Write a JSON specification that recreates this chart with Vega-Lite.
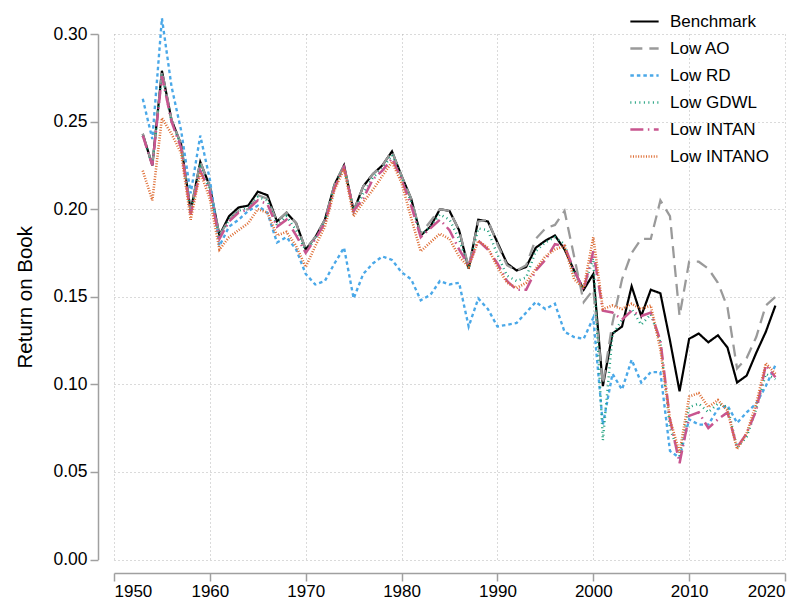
{
"$schema": "https://vega.github.io/schema/vega-lite/v6.json",
"width": 671, "height": 525.5,
"autosize": {"type": "none"},
"padding": {"left": 114, "top": 34, "right": 23, "bottom": 46.5},
"background": "white",
"config": {"font": "Liberation Sans", "view": {"stroke": null}},
"data": {"values": [
{"year":1953,"series":"Benchmark","value":0.243},{"year":1954,"series":"Benchmark","value":0.225},{"year":1955,"series":"Benchmark","value":0.279},{"year":1956,"series":"Benchmark","value":0.251},{"year":1957,"series":"Benchmark","value":0.237},{"year":1958,"series":"Benchmark","value":0.199},{"year":1959,"series":"Benchmark","value":0.227},{"year":1960,"series":"Benchmark","value":0.213},{"year":1961,"series":"Benchmark","value":0.185},{"year":1962,"series":"Benchmark","value":0.196},
{"year":1963,"series":"Benchmark","value":0.201},{"year":1964,"series":"Benchmark","value":0.202},{"year":1965,"series":"Benchmark","value":0.210},{"year":1966,"series":"Benchmark","value":0.208},{"year":1967,"series":"Benchmark","value":0.193},{"year":1968,"series":"Benchmark","value":0.198},{"year":1969,"series":"Benchmark","value":0.192},{"year":1970,"series":"Benchmark","value":0.177},{"year":1971,"series":"Benchmark","value":0.184},{"year":1972,"series":"Benchmark","value":0.194},
{"year":1973,"series":"Benchmark","value":0.214},{"year":1974,"series":"Benchmark","value":0.225},{"year":1975,"series":"Benchmark","value":0.199},{"year":1976,"series":"Benchmark","value":0.213},{"year":1977,"series":"Benchmark","value":0.220},{"year":1978,"series":"Benchmark","value":0.225},{"year":1979,"series":"Benchmark","value":0.233},{"year":1980,"series":"Benchmark","value":0.219},{"year":1981,"series":"Benchmark","value":0.206},{"year":1982,"series":"Benchmark","value":0.185},
{"year":1983,"series":"Benchmark","value":0.190},{"year":1984,"series":"Benchmark","value":0.200},{"year":1985,"series":"Benchmark","value":0.199},{"year":1986,"series":"Benchmark","value":0.188},{"year":1987,"series":"Benchmark","value":0.166},{"year":1988,"series":"Benchmark","value":0.194},{"year":1989,"series":"Benchmark","value":0.193},{"year":1990,"series":"Benchmark","value":0.181},{"year":1991,"series":"Benchmark","value":0.169},{"year":1992,"series":"Benchmark","value":0.165},
{"year":1993,"series":"Benchmark","value":0.167},{"year":1994,"series":"Benchmark","value":0.178},{"year":1995,"series":"Benchmark","value":0.182},{"year":1996,"series":"Benchmark","value":0.185},{"year":1997,"series":"Benchmark","value":0.177},{"year":1998,"series":"Benchmark","value":0.165},{"year":1999,"series":"Benchmark","value":0.154},{"year":2000,"series":"Benchmark","value":0.163},{"year":2001,"series":"Benchmark","value":0.099},{"year":2002,"series":"Benchmark","value":0.129},
{"year":2003,"series":"Benchmark","value":0.133},{"year":2004,"series":"Benchmark","value":0.156},{"year":2005,"series":"Benchmark","value":0.139},{"year":2006,"series":"Benchmark","value":0.154},{"year":2007,"series":"Benchmark","value":0.152},{"year":2008,"series":"Benchmark","value":0.125},{"year":2009,"series":"Benchmark","value":0.096},{"year":2010,"series":"Benchmark","value":0.126},{"year":2011,"series":"Benchmark","value":0.129},{"year":2012,"series":"Benchmark","value":0.124},
{"year":2013,"series":"Benchmark","value":0.128},{"year":2014,"series":"Benchmark","value":0.121},{"year":2015,"series":"Benchmark","value":0.101},{"year":2016,"series":"Benchmark","value":0.105},{"year":2017,"series":"Benchmark","value":0.118},{"year":2018,"series":"Benchmark","value":0.130},{"year":2019,"series":"Benchmark","value":0.145},

{"year":1953,"series":"Low AO","value":0.243},{"year":1954,"series":"Low AO","value":0.225},{"year":1955,"series":"Low AO","value":0.279},{"year":1956,"series":"Low AO","value":0.251},{"year":1957,"series":"Low AO","value":0.237},{"year":1958,"series":"Low AO","value":0.199},{"year":1959,"series":"Low AO","value":0.227},{"year":1960,"series":"Low AO","value":0.213},{"year":1961,"series":"Low AO","value":0.185},{"year":1962,"series":"Low AO","value":0.194},
{"year":1963,"series":"Low AO","value":0.199},{"year":1964,"series":"Low AO","value":0.200},{"year":1965,"series":"Low AO","value":0.208},{"year":1966,"series":"Low AO","value":0.206},{"year":1967,"series":"Low AO","value":0.193},{"year":1968,"series":"Low AO","value":0.198},{"year":1969,"series":"Low AO","value":0.192},{"year":1970,"series":"Low AO","value":0.177},{"year":1971,"series":"Low AO","value":0.184},{"year":1972,"series":"Low AO","value":0.194},
{"year":1973,"series":"Low AO","value":0.214},{"year":1974,"series":"Low AO","value":0.225},{"year":1975,"series":"Low AO","value":0.199},{"year":1976,"series":"Low AO","value":0.213},{"year":1977,"series":"Low AO","value":0.220},{"year":1978,"series":"Low AO","value":0.225},{"year":1979,"series":"Low AO","value":0.233},{"year":1980,"series":"Low AO","value":0.219},{"year":1981,"series":"Low AO","value":0.206},{"year":1982,"series":"Low AO","value":0.186},
{"year":1983,"series":"Low AO","value":0.193},{"year":1984,"series":"Low AO","value":0.200},{"year":1985,"series":"Low AO","value":0.199},{"year":1986,"series":"Low AO","value":0.188},{"year":1987,"series":"Low AO","value":0.167},{"year":1988,"series":"Low AO","value":0.193},{"year":1989,"series":"Low AO","value":0.194},{"year":1990,"series":"Low AO","value":0.180},{"year":1991,"series":"Low AO","value":0.168},{"year":1992,"series":"Low AO","value":0.165},
{"year":1993,"series":"Low AO","value":0.168},{"year":1994,"series":"Low AO","value":0.183},{"year":1995,"series":"Low AO","value":0.189},{"year":1996,"series":"Low AO","value":0.191},{"year":1997,"series":"Low AO","value":0.199},{"year":1998,"series":"Low AO","value":0.173},{"year":1999,"series":"Low AO","value":0.147},{"year":2000,"series":"Low AO","value":0.154},{"year":2001,"series":"Low AO","value":0.100},{"year":2002,"series":"Low AO","value":0.135},
{"year":2003,"series":"Low AO","value":0.160},{"year":2004,"series":"Low AO","value":0.175},{"year":2005,"series":"Low AO","value":0.183},{"year":2006,"series":"Low AO","value":0.183},{"year":2007,"series":"Low AO","value":0.205},{"year":2008,"series":"Low AO","value":0.196},{"year":2009,"series":"Low AO","value":0.139},{"year":2010,"series":"Low AO","value":0.170},{"year":2011,"series":"Low AO","value":0.170},{"year":2012,"series":"Low AO","value":0.166},
{"year":2013,"series":"Low AO","value":0.158},{"year":2014,"series":"Low AO","value":0.144},{"year":2015,"series":"Low AO","value":0.109},{"year":2016,"series":"Low AO","value":0.115},{"year":2017,"series":"Low AO","value":0.127},{"year":2018,"series":"Low AO","value":0.145},{"year":2019,"series":"Low AO","value":0.150},

{"year":1953,"series":"Low RD","value":0.263},{"year":1954,"series":"Low RD","value":0.240},{"year":1955,"series":"Low RD","value":0.309},{"year":1956,"series":"Low RD","value":0.270},{"year":1957,"series":"Low RD","value":0.245},{"year":1958,"series":"Low RD","value":0.209},{"year":1959,"series":"Low RD","value":0.242},{"year":1960,"series":"Low RD","value":0.217},{"year":1961,"series":"Low RD","value":0.179},{"year":1962,"series":"Low RD","value":0.190},
{"year":1963,"series":"Low RD","value":0.194},{"year":1964,"series":"Low RD","value":0.199},{"year":1965,"series":"Low RD","value":0.202},{"year":1966,"series":"Low RD","value":0.198},{"year":1967,"series":"Low RD","value":0.181},{"year":1968,"series":"Low RD","value":0.184},{"year":1969,"series":"Low RD","value":0.177},{"year":1970,"series":"Low RD","value":0.163},{"year":1971,"series":"Low RD","value":0.157},{"year":1972,"series":"Low RD","value":0.159},
{"year":1973,"series":"Low RD","value":0.169},{"year":1974,"series":"Low RD","value":0.178},{"year":1975,"series":"Low RD","value":0.149},{"year":1976,"series":"Low RD","value":0.163},{"year":1977,"series":"Low RD","value":0.169},{"year":1978,"series":"Low RD","value":0.173},{"year":1979,"series":"Low RD","value":0.171},{"year":1980,"series":"Low RD","value":0.164},{"year":1981,"series":"Low RD","value":0.160},{"year":1982,"series":"Low RD","value":0.148},
{"year":1983,"series":"Low RD","value":0.151},{"year":1984,"series":"Low RD","value":0.159},{"year":1985,"series":"Low RD","value":0.157},{"year":1986,"series":"Low RD","value":0.158},{"year":1987,"series":"Low RD","value":0.133},{"year":1988,"series":"Low RD","value":0.149},{"year":1989,"series":"Low RD","value":0.143},{"year":1990,"series":"Low RD","value":0.133},{"year":1991,"series":"Low RD","value":0.134},{"year":1992,"series":"Low RD","value":0.135},
{"year":1993,"series":"Low RD","value":0.141},{"year":1994,"series":"Low RD","value":0.147},{"year":1995,"series":"Low RD","value":0.143},{"year":1996,"series":"Low RD","value":0.146},{"year":1997,"series":"Low RD","value":0.130},{"year":1998,"series":"Low RD","value":0.127},{"year":1999,"series":"Low RD","value":0.126},{"year":2000,"series":"Low RD","value":0.138},{"year":2001,"series":"Low RD","value":0.077},{"year":2002,"series":"Low RD","value":0.106},
{"year":2003,"series":"Low RD","value":0.097},{"year":2004,"series":"Low RD","value":0.114},{"year":2005,"series":"Low RD","value":0.101},{"year":2006,"series":"Low RD","value":0.107},{"year":2007,"series":"Low RD","value":0.107},{"year":2008,"series":"Low RD","value":0.062},{"year":2009,"series":"Low RD","value":0.058},{"year":2010,"series":"Low RD","value":0.080},{"year":2011,"series":"Low RD","value":0.077},{"year":2012,"series":"Low RD","value":0.077},
{"year":2013,"series":"Low RD","value":0.086},{"year":2014,"series":"Low RD","value":0.088},{"year":2015,"series":"Low RD","value":0.078},{"year":2016,"series":"Low RD","value":0.084},{"year":2017,"series":"Low RD","value":0.089},{"year":2018,"series":"Low RD","value":0.099},{"year":2019,"series":"Low RD","value":0.111},

{"year":1953,"series":"Low GDWL","value":0.242},{"year":1954,"series":"Low GDWL","value":0.225},{"year":1955,"series":"Low GDWL","value":0.277},{"year":1956,"series":"Low GDWL","value":0.250},{"year":1957,"series":"Low GDWL","value":0.236},{"year":1958,"series":"Low GDWL","value":0.198},{"year":1959,"series":"Low GDWL","value":0.224},{"year":1960,"series":"Low GDWL","value":0.211},{"year":1961,"series":"Low GDWL","value":0.184},{"year":1962,"series":"Low GDWL","value":0.194},
{"year":1963,"series":"Low GDWL","value":0.199},{"year":1964,"series":"Low GDWL","value":0.201},{"year":1965,"series":"Low GDWL","value":0.207},{"year":1966,"series":"Low GDWL","value":0.205},{"year":1967,"series":"Low GDWL","value":0.191},{"year":1968,"series":"Low GDWL","value":0.196},{"year":1969,"series":"Low GDWL","value":0.188},{"year":1970,"series":"Low GDWL","value":0.176},{"year":1971,"series":"Low GDWL","value":0.183},{"year":1972,"series":"Low GDWL","value":0.193},
{"year":1973,"series":"Low GDWL","value":0.213},{"year":1974,"series":"Low GDWL","value":0.224},{"year":1975,"series":"Low GDWL","value":0.199},{"year":1976,"series":"Low GDWL","value":0.209},{"year":1977,"series":"Low GDWL","value":0.218},{"year":1978,"series":"Low GDWL","value":0.223},{"year":1979,"series":"Low GDWL","value":0.231},{"year":1980,"series":"Low GDWL","value":0.218},{"year":1981,"series":"Low GDWL","value":0.204},{"year":1982,"series":"Low GDWL","value":0.185},
{"year":1983,"series":"Low GDWL","value":0.190},{"year":1984,"series":"Low GDWL","value":0.197},{"year":1985,"series":"Low GDWL","value":0.194},{"year":1986,"series":"Low GDWL","value":0.183},{"year":1987,"series":"Low GDWL","value":0.166},{"year":1988,"series":"Low GDWL","value":0.189},{"year":1989,"series":"Low GDWL","value":0.188},{"year":1990,"series":"Low GDWL","value":0.174},{"year":1991,"series":"Low GDWL","value":0.162},{"year":1992,"series":"Low GDWL","value":0.159},
{"year":1993,"series":"Low GDWL","value":0.161},{"year":1994,"series":"Low GDWL","value":0.176},{"year":1995,"series":"Low GDWL","value":0.181},{"year":1996,"series":"Low GDWL","value":0.184},{"year":1997,"series":"Low GDWL","value":0.180},{"year":1998,"series":"Low GDWL","value":0.163},{"year":1999,"series":"Low GDWL","value":0.155},{"year":2000,"series":"Low GDWL","value":0.172},{"year":2001,"series":"Low GDWL","value":0.068},{"year":2002,"series":"Low GDWL","value":0.128},
{"year":2003,"series":"Low GDWL","value":0.137},{"year":2004,"series":"Low GDWL","value":0.143},{"year":2005,"series":"Low GDWL","value":0.134},{"year":2006,"series":"Low GDWL","value":0.140},{"year":2007,"series":"Low GDWL","value":0.124},{"year":2008,"series":"Low GDWL","value":0.075},{"year":2009,"series":"Low GDWL","value":0.059},{"year":2010,"series":"Low GDWL","value":0.087},{"year":2011,"series":"Low GDWL","value":0.089},{"year":2012,"series":"Low GDWL","value":0.084},
{"year":2013,"series":"Low GDWL","value":0.089},{"year":2014,"series":"Low GDWL","value":0.087},{"year":2015,"series":"Low GDWL","value":0.064},{"year":2016,"series":"Low GDWL","value":0.070},{"year":2017,"series":"Low GDWL","value":0.086},{"year":2018,"series":"Low GDWL","value":0.106},{"year":2019,"series":"Low GDWL","value":0.103},

{"year":1953,"series":"Low INTAN","value":0.242},{"year":1954,"series":"Low INTAN","value":0.225},{"year":1955,"series":"Low INTAN","value":0.276},{"year":1956,"series":"Low INTAN","value":0.250},{"year":1957,"series":"Low INTAN","value":0.235},{"year":1958,"series":"Low INTAN","value":0.197},{"year":1959,"series":"Low INTAN","value":0.222},{"year":1960,"series":"Low INTAN","value":0.210},{"year":1961,"series":"Low INTAN","value":0.183},{"year":1962,"series":"Low INTAN","value":0.193},
{"year":1963,"series":"Low INTAN","value":0.198},{"year":1964,"series":"Low INTAN","value":0.200},{"year":1965,"series":"Low INTAN","value":0.205},{"year":1966,"series":"Low INTAN","value":0.203},{"year":1967,"series":"Low INTAN","value":0.190},{"year":1968,"series":"Low INTAN","value":0.194},{"year":1969,"series":"Low INTAN","value":0.185},{"year":1970,"series":"Low INTAN","value":0.175},{"year":1971,"series":"Low INTAN","value":0.183},{"year":1972,"series":"Low INTAN","value":0.192},
{"year":1973,"series":"Low INTAN","value":0.212},{"year":1974,"series":"Low INTAN","value":0.224},{"year":1975,"series":"Low INTAN","value":0.199},{"year":1976,"series":"Low INTAN","value":0.206},{"year":1977,"series":"Low INTAN","value":0.217},{"year":1978,"series":"Low INTAN","value":0.222},{"year":1979,"series":"Low INTAN","value":0.229},{"year":1980,"series":"Low INTAN","value":0.217},{"year":1981,"series":"Low INTAN","value":0.202},{"year":1982,"series":"Low INTAN","value":0.184},
{"year":1983,"series":"Low INTAN","value":0.189},{"year":1984,"series":"Low INTAN","value":0.194},{"year":1985,"series":"Low INTAN","value":0.188},{"year":1986,"series":"Low INTAN","value":0.177},{"year":1987,"series":"Low INTAN","value":0.168},{"year":1988,"series":"Low INTAN","value":0.182},{"year":1989,"series":"Low INTAN","value":0.177},{"year":1990,"series":"Low INTAN","value":0.169},{"year":1991,"series":"Low INTAN","value":0.159},{"year":1992,"series":"Low INTAN","value":0.154},
{"year":1993,"series":"Low INTAN","value":0.154},{"year":1994,"series":"Low INTAN","value":0.165},{"year":1995,"series":"Low INTAN","value":0.171},{"year":1996,"series":"Low INTAN","value":0.180},{"year":1997,"series":"Low INTAN","value":0.179},{"year":1998,"series":"Low INTAN","value":0.165},{"year":1999,"series":"Low INTAN","value":0.154},{"year":2000,"series":"Low INTAN","value":0.176},{"year":2001,"series":"Low INTAN","value":0.142},{"year":2002,"series":"Low INTAN","value":0.141},
{"year":2003,"series":"Low INTAN","value":0.137},{"year":2004,"series":"Low INTAN","value":0.142},{"year":2005,"series":"Low INTAN","value":0.139},{"year":2006,"series":"Low INTAN","value":0.141},{"year":2007,"series":"Low INTAN","value":0.125},{"year":2008,"series":"Low INTAN","value":0.080},{"year":2009,"series":"Low INTAN","value":0.055},{"year":2010,"series":"Low INTAN","value":0.082},{"year":2011,"series":"Low INTAN","value":0.084},{"year":2012,"series":"Low INTAN","value":0.075},
{"year":2013,"series":"Low INTAN","value":0.080},{"year":2014,"series":"Low INTAN","value":0.084},{"year":2015,"series":"Low INTAN","value":0.064},{"year":2016,"series":"Low INTAN","value":0.072},{"year":2017,"series":"Low INTAN","value":0.085},{"year":2018,"series":"Low INTAN","value":0.111},{"year":2019,"series":"Low INTAN","value":0.104},

{"year":1953,"series":"Low INTANO","value":0.222},{"year":1954,"series":"Low INTANO","value":0.205},{"year":1955,"series":"Low INTANO","value":0.252},{"year":1956,"series":"Low INTANO","value":0.243},{"year":1957,"series":"Low INTANO","value":0.232},{"year":1958,"series":"Low INTANO","value":0.194},{"year":1959,"series":"Low INTANO","value":0.221},{"year":1960,"series":"Low INTANO","value":0.206},{"year":1961,"series":"Low INTANO","value":0.177},{"year":1962,"series":"Low INTANO","value":0.184},
{"year":1963,"series":"Low INTANO","value":0.188},{"year":1964,"series":"Low INTANO","value":0.192},{"year":1965,"series":"Low INTANO","value":0.200},{"year":1966,"series":"Low INTANO","value":0.198},{"year":1967,"series":"Low INTANO","value":0.185},{"year":1968,"series":"Low INTANO","value":0.187},{"year":1969,"series":"Low INTANO","value":0.179},{"year":1970,"series":"Low INTANO","value":0.167},{"year":1971,"series":"Low INTANO","value":0.179},{"year":1972,"series":"Low INTANO","value":0.190},
{"year":1973,"series":"Low INTANO","value":0.211},{"year":1974,"series":"Low INTANO","value":0.223},{"year":1975,"series":"Low INTANO","value":0.196},{"year":1976,"series":"Low INTANO","value":0.204},{"year":1977,"series":"Low INTANO","value":0.211},{"year":1978,"series":"Low INTANO","value":0.219},{"year":1979,"series":"Low INTANO","value":0.227},{"year":1980,"series":"Low INTANO","value":0.215},{"year":1981,"series":"Low INTANO","value":0.195},{"year":1982,"series":"Low INTANO","value":0.176},
{"year":1983,"series":"Low INTANO","value":0.181},{"year":1984,"series":"Low INTANO","value":0.186},{"year":1985,"series":"Low INTANO","value":0.183},{"year":1986,"series":"Low INTANO","value":0.173},{"year":1987,"series":"Low INTANO","value":0.167},{"year":1988,"series":"Low INTANO","value":0.182},{"year":1989,"series":"Low INTANO","value":0.178},{"year":1990,"series":"Low INTANO","value":0.167},{"year":1991,"series":"Low INTANO","value":0.158},{"year":1992,"series":"Low INTANO","value":0.155},
{"year":1993,"series":"Low INTANO","value":0.158},{"year":1994,"series":"Low INTANO","value":0.166},{"year":1995,"series":"Low INTANO","value":0.173},{"year":1996,"series":"Low INTANO","value":0.177},{"year":1997,"series":"Low INTANO","value":0.179},{"year":1998,"series":"Low INTANO","value":0.160},{"year":1999,"series":"Low INTANO","value":0.155},{"year":2000,"series":"Low INTANO","value":0.184},{"year":2001,"series":"Low INTANO","value":0.143},{"year":2002,"series":"Low INTANO","value":0.145},
{"year":2003,"series":"Low INTANO","value":0.143},{"year":2004,"series":"Low INTANO","value":0.146},{"year":2005,"series":"Low INTANO","value":0.143},{"year":2006,"series":"Low INTANO","value":0.145},{"year":2007,"series":"Low INTANO","value":0.120},{"year":2008,"series":"Low INTANO","value":0.080},{"year":2009,"series":"Low INTANO","value":0.061},{"year":2010,"series":"Low INTANO","value":0.093},{"year":2011,"series":"Low INTANO","value":0.095},{"year":2012,"series":"Low INTANO","value":0.087},
{"year":2013,"series":"Low INTANO","value":0.091},{"year":2014,"series":"Low INTANO","value":0.085},{"year":2015,"series":"Low INTANO","value":0.063},{"year":2016,"series":"Low INTANO","value":0.072},{"year":2017,"series":"Low INTANO","value":0.089},{"year":2018,"series":"Low INTANO","value":0.112},{"year":2019,"series":"Low INTANO","value":0.106}
]},
"mark": {"type": "line", "strokeCap": "butt", "strokeJoin": "miter"},
"encoding": {
  "x": {"field": "year", "type": "quantitative",
    "scale": {"domain": [1950, 2020], "nice": false, "zero": false},
    "axis": {"title": null, "values": [1950,1960,1970,1980,1990,2000,2010,2020], "format": "d",
      "labelFontSize": 17, "labelColor": "black", "labelPadding": 2, "offset": 13.5,
      "domainColor": "#a0a0a0", "domainWidth": 1.5, "tickColor": "#a0a0a0", "tickWidth": 1.5, "tickSize": 8,
      "grid": true, "gridColor": "#b4b4b4", "gridDash": [1, 3], "gridWidth": 1}},
  "y": {"field": "value", "type": "quantitative",
    "scale": {"domain": [0, 0.3], "nice": false},
    "axis": {"title": "Return on Book", "titleFontSize": 20.5, "titleFontWeight": "normal", "titleColor": "black", "titlePadding": 17,
      "values": [0,0.05,0.1,0.15,0.2,0.25,0.3], "format": ".2f",
      "labelFontSize": 17.5, "labelColor": "black", "labelPadding": 3, "offset": 16,
      "domainColor": "#a0a0a0", "domainWidth": 1.5, "tickColor": "#a0a0a0", "tickWidth": 1.5, "tickSize": 8,
      "grid": true, "gridColor": "#b4b4b4", "gridDash": [1, 3], "gridWidth": 1}},
  "color": {"field": "series", "type": "nominal",
    "scale": {"domain": ["Benchmark","Low AO","Low RD","Low GDWL","Low INTAN","Low INTANO"],
      "range": ["#000000","#9a9a9a","#4aa8e8","#1a9e7a","#c8558f","#dd6a30"]},
    "legend": {"title": null, "orient": "none", "legendX": 515, "legendY": -28, "symbolType": "stroke", "symbolSize": 800,
      "labelFontSize": 17, "labelColor": "black", "labelOffset": 10, "rowPadding": 3, "padding": 0, "labelLimit": 200}},
  "strokeDash": {"field": "series", "type": "nominal",
    "scale": {"domain": ["Benchmark","Low AO","Low RD","Low GDWL","Low INTAN","Low INTANO"],
      "range": [[1,0],[12,7],[3.5,3],[1,3.5],[13,4.5,1.5,4.5],[1,1.6]]}},
  "strokeWidth": {"field": "series", "type": "nominal",
    "scale": {"domain": ["Benchmark","Low AO","Low RD","Low GDWL","Low INTAN","Low INTANO"],
      "range": [2.2, 2.6, 2.8, 1.6, 2.6, 1.5]}}
}
}
